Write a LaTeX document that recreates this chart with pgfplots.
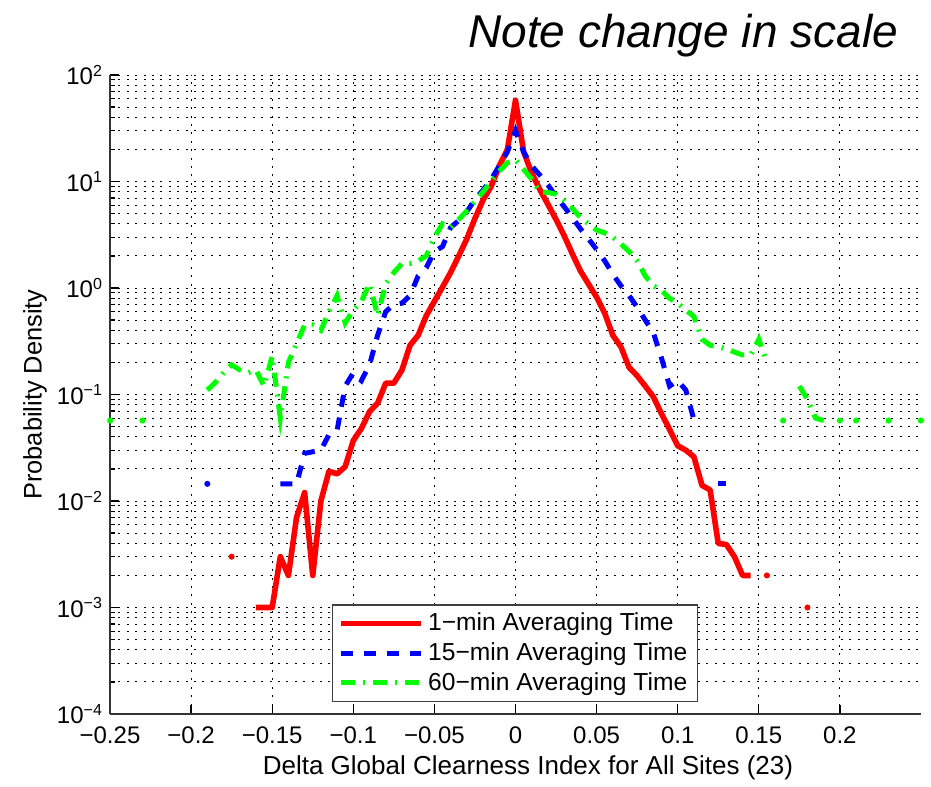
\documentclass[border=0pt]{standalone}
\usepackage{fontspec}
\setmainfont{Liberation Sans}
\usepackage{pgfplots}
\pgfplotsset{compat=1.18}
\definecolor{mred}{rgb}{1,0,0}
\definecolor{mblue}{rgb}{0,0,1}
\definecolor{mgreen}{rgb}{0,1,0}
\begin{document}
\begin{tikzpicture}
\begin{axis}[
  name=ax,
  scale only axis, width=405.5pt, height=319.5pt,
  ymode=log, xmin=-0.25, xmax=0.25, ymin=1e-4, ymax=1e2,
  axis x line*=bottom, axis y line*=left,
  axis line style={-, line width=0.7pt, black!80},
  tick align=inside, tick pos=left,
  xtick={-0.25,-0.2,-0.15,-0.1,-0.05,0,0.05,0.1,0.15,0.2},
  xticklabels={−0.25,−0.2,−0.15,−0.1,−0.05,0,0.05,0.1,0.15,0.2},
  ytick={1e-4,1e-3,1e-2,1e-1,1,10,100},
  yticklabels={10\textsuperscript{−4},10\textsuperscript{−3},10\textsuperscript{−2},10\textsuperscript{−1},10\textsuperscript{0},10\textsuperscript{1},10\textsuperscript{2}},
  minor ytick={2e-4,3e-4,4e-4,5e-4,6e-4,7e-4,8e-4,9e-4,
               2e-3,3e-3,4e-3,5e-3,6e-3,7e-3,8e-3,9e-3,
               2e-2,3e-2,4e-2,5e-2,6e-2,7e-2,8e-2,9e-2,
               2e-1,3e-1,4e-1,5e-1,6e-1,7e-1,8e-1,9e-1,
               2,3,4,5,6,7,8,9,20,30,40,50,60,70,80,90},
  grid=both,
  major grid style={black, line width=0.5pt, dash pattern=on 1pt off 3.2pt},
  minor grid style={black, line width=0.5pt, dash pattern=on 1pt off 3.2pt},
  major tick length=4.5pt, minor tick length=2.5pt,
  tick style={black, line width=0.6pt},
  ticklabel style={font=\fontsize{12}{14}\selectfont},
  xticklabel style={yshift=-3pt},
  xlabel={Delta Global Clearness Index for All Sites (23)},
  xlabel style={font=\fontsize{13}{15}\selectfont, at={(rel axis cs:0.5154,0)}, anchor=base, yshift=-30pt},
  legend style={at={(rel axis cs:0.2737,0.0188)}, anchor=south west, draw=black!75, line width=0.6pt, fill=white,
    font=\fontsize{12.3}{14}\selectfont, inner xsep=3pt, inner ysep=2pt, row sep=0.5pt},
  legend cell align=left,
  legend image code/.code={\draw[#1] (0pt,0pt) -- (40pt,0pt);},
]
% 1-min
\addplot[mred, line width=2.8pt, line join=round] table {
-0.16 0.001
-0.155 0.001
-0.15 0.001
-0.145 0.003
-0.14 0.002
-0.135 0.007
-0.13 0.012
-0.125 0.002
-0.12 0.010
-0.115 0.019
-0.11 0.018
-0.105 0.021
-0.10 0.037
-0.095 0.048
-0.09 0.069
-0.085 0.083
-0.08 0.128
-0.075 0.128
-0.07 0.17
-0.065 0.29
-0.06 0.36
-0.055 0.55
-0.05 0.75
-0.045 1.02
-0.04 1.4
-0.035 2.0
-0.03 2.9
-0.025 4.5
-0.02 6.7
-0.015 9.0
-0.01 14
-0.005 20
0 58
0.005 19
0.01 12
0.015 8.4
0.02 6.1
0.025 4.4
0.03 3.1
0.035 2.1
0.04 1.45
0.045 1.09
0.05 0.82
0.055 0.58
0.06 0.36
0.065 0.28
0.07 0.18
0.075 0.15
0.08 0.12
0.085 0.095
0.09 0.066
0.095 0.047
0.10 0.033
0.105 0.03
0.11 0.026
0.115 0.014
0.12 0.0127
0.125 0.004
0.13 0.0039
0.135 0.003
0.14 0.002
0.145 0.002
};
\addlegendentry{1−min Averaging Time}
% 15-min
\addplot[mblue, line width=2.5pt, dash pattern=on 6pt off 5.5pt] table {
-0.145 0.0145
-0.14 0.0145
-0.135 0.0145
-0.13 0.028
-0.125 0.029
-0.12 0.030
-0.115 0.042
-0.11 0.046
-0.105 0.12
-0.10 0.16
-0.095 0.135
-0.09 0.19
-0.085 0.36
-0.08 0.6
-0.075 0.7
-0.07 0.72
-0.065 0.85
-0.06 1.3
-0.055 1.55
-0.05 2.2
-0.045 2.45
-0.04 3.7
-0.035 4.3
-0.03 5.2
-0.025 6.8
-0.02 8.3
-0.015 10.5
-0.01 14
-0.005 19
0 30
0.005 19
0.01 14
0.015 11.5
0.02 9.3
0.025 7.2
0.03 5.8
0.035 4.6
0.04 3.6
0.045 2.9
0.05 2.3
0.055 1.8
0.06 1.35
0.065 1.05
0.07 0.85
0.075 0.66
0.08 0.5
0.085 0.38
0.09 0.22
0.095 0.12
0.10 0.135
0.105 0.11
0.11 0.058
};
\addlegendentry{15−min Averaging Time}
% 60-min
\addplot[mgreen, line width=2.5pt, dash pattern=on 7pt off 4pt on 1pt off 4pt] table {
-0.19 0.11
-0.185 0.13
-0.18 0.16
-0.175 0.19
-0.17 0.17
-0.165 0.16
-0.16 0.17
-0.155 0.12
-0.15 0.23
-0.145 0.06
-0.14 0.2
-0.135 0.3
-0.13 0.45
-0.125 0.45
-0.12 0.4
-0.115 0.6
-0.11 0.85
-0.105 0.47
-0.10 0.62
-0.095 0.75
-0.09 1.1
-0.085 0.55
-0.08 1.1
-0.075 1.4
-0.07 1.7
-0.065 1.7
-0.06 1.8
-0.055 2.0
-0.05 3.0
-0.045 4.0
-0.04 3.7
-0.035 4.4
-0.03 5.3
-0.025 6.5
-0.02 8
-0.015 10
-0.01 12.5
-0.005 15
0 16
0.005 13
0.01 10.5
0.015 8
0.02 7.9
0.025 7.6
0.03 6.6
0.035 5.6
0.04 4.6
0.045 4.0
0.05 3.5
0.055 3.3
0.06 3.0
0.065 2.6
0.07 2.2
0.075 1.8
0.08 1.3
0.085 1.05
0.09 0.95
0.095 0.8
0.10 0.72
0.105 0.62
0.11 0.54
0.115 0.33
0.12 0.29
0.125 0.28
0.13 0.27
0.135 0.25
0.14 0.235
0.145 0.235
0.15 0.33
0.155 0.2
};
\addlegendentry{60−min Averaging Time}
% extra segments and isolated bins
\addplot[mblue, line width=2.5pt, forget plot] table {
0.125 0.0145
0.13 0.0145
};
\addplot[mgreen, line width=2.5pt, dash pattern=on 7pt off 4pt on 1pt off 4pt, forget plot] table {
0.175 0.12
0.18 0.09
0.185 0.06
0.19 0.057
};
\addplot[only marks, mark=*, mark size=1.3pt, mred, forget plot] coordinates {(-0.175,0.003) (0.155,0.002) (0.18,0.001)};
\addplot[only marks, mark=*, mark size=1.3pt, mblue, forget plot] coordinates {(-0.19,0.0145)};
\addplot[only marks, mark=*, mark size=1.3pt, mgreen, forget plot] coordinates {(-0.2499,0.057) (-0.23,0.057) (0.165,0.057) (0.2,0.057) (0.21,0.057) (0.23,0.057) (0.2499,0.057)};
\end{axis}
\node[rotate=90, anchor=center, font=\fontsize{12.7}{15}\selectfont] at ([xshift=-37.5pt]ax.west) {Probability Density};
\node[anchor=base east, font=\itshape\fontsize{23}{27}\selectfont] at ([xshift=-8pt,yshift=13.5pt]ax.north east) {Note change in scale};
\path ([xshift=-55pt,yshift=-33.5pt]ax.south west) rectangle ([xshift=5pt,yshift=37.5pt]ax.north east);
\end{tikzpicture}
\end{document}
